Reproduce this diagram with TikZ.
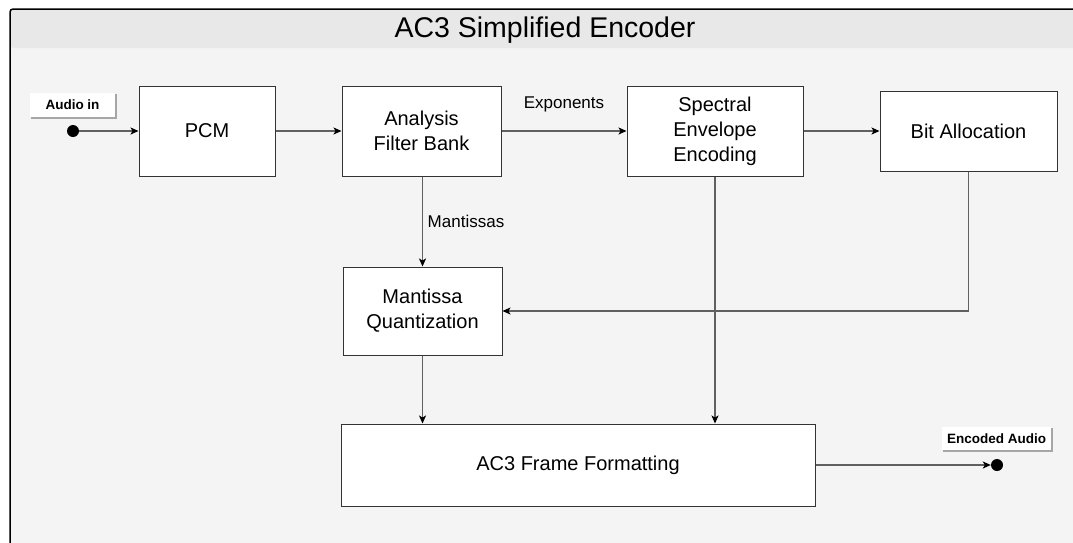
\documentclass[tikz,border=0pt]{standalone}
\usepackage{fontspec}
\setmainfont{Liberation Sans}
\usetikzlibrary{arrows.meta}
\definecolor{bodybg}{HTML}{F4F4F4}
\definecolor{titlebg}{HTML}{E8E8E8}
\definecolor{linegray}{HTML}{606060}
\definecolor{boxline}{HTML}{333333}
\begin{document}
\begin{tikzpicture}[x=1pt,y=-1pt,
  blockbox/.style={draw=boxline,line width=1pt,fill=white,align=center,
    font=\fontsize{20}{25}\selectfont,inner sep=0pt},
  conn/.style={draw=linegray,line width=1.3pt,
    -{Stealth[length=8pt,width=7pt,inset=2pt,color=black]}},
  plain/.style={draw=linegray,line width=1.3pt},
  lbl/.style={font=\fontsize{17}{20}\selectfont,inner sep=0pt},
  tag/.style={fill=white,inner sep=0pt,font=\bfseries\fontsize{13.5}{16}\selectfont},
  portdot/.style={circle,fill=black,inner sep=0pt,minimum size=12pt}
]
\useasboundingbox (0,0) rectangle (1073,542);
\clip (0,0) rectangle (1073,542);
% frame
\fill[bodybg] (10,48) rectangle (1090,560);
\fill[titlebg,rounded corners=3pt] (10,48) -- (10,9) -- (1090,9) -- (1090,48) -- cycle;
\draw[black,line width=1.5pt,rounded corners=3pt] (10,560) -- (10,9) -- (1090,9);
\node[font=\fontsize{28.5}{32}\selectfont] (title) at (545,30) {AC3 Simplified Encoder};

% blocks
\node[blockbox,minimum width=136pt,minimum height=90pt] (pcm) at (207,131) {PCM};
\node[blockbox,minimum width=159pt,minimum height=90pt] (afb) at (421.5,131) {Analysis\\Filter Bank};
\node[blockbox,minimum width=176pt,minimum height=90pt] (see) at (715,131) {Spectral\\Envelope\\Encoding};
\node[blockbox,minimum width=177pt,minimum height=80pt] (ba) at (968.5,131) {Bit Allocation};
\node[blockbox,minimum width=159pt,minimum height=88pt] (mq) at (422.5,311) {Mantissa\\Quantization};
\node[blockbox,minimum width=474pt,minimum height=82pt] (ff) at (578,465) {AC3 Frame Formatting};

% ports
\node[portdot] (inp) at (73,131) {};
\node[portdot] (outp) at (997,465) {};
\draw[gray!70,line width=1.2pt] (116,94) -- (116,118) -- (31,118);
\node[tag,minimum width=85pt,minimum height=24pt] (intag) at (72.5,105) {Audio in};
\draw[gray!70,line width=1.2pt] (1052,428) -- (1052,451) -- (943,451);
\node[tag,minimum width=109pt,minimum height=23pt] (outtag) at (996.5,438.5) {Encoded Audio};

% connectors
\draw[conn] (inp) -- (pcm.west);
\draw[conn] (pcm.east) -- (afb.west);
\draw[conn] (afb.east) -- (see.west);
\node[lbl] (explbl) at (564,104) {Exponents};
\draw[conn] (see.east) -- (ba.west);
\draw[conn] (afb.south -| mq.north) -- (mq.north);
\node[lbl] (manlbl) at (466,221) {Mantissas};
\coordinate (bend) at (ba.south |- mq.east);
\draw[plain] (ba.south) -- (bend);
\draw[conn] (bend) -- (mq.east);
\draw[conn] (mq.south) -- (mq.south |- ff.north);
\draw[conn] (see.south) -- (see.south |- ff.north);
\draw[conn] (ff.east) -- (outp.west);
\end{tikzpicture}
\end{document}
